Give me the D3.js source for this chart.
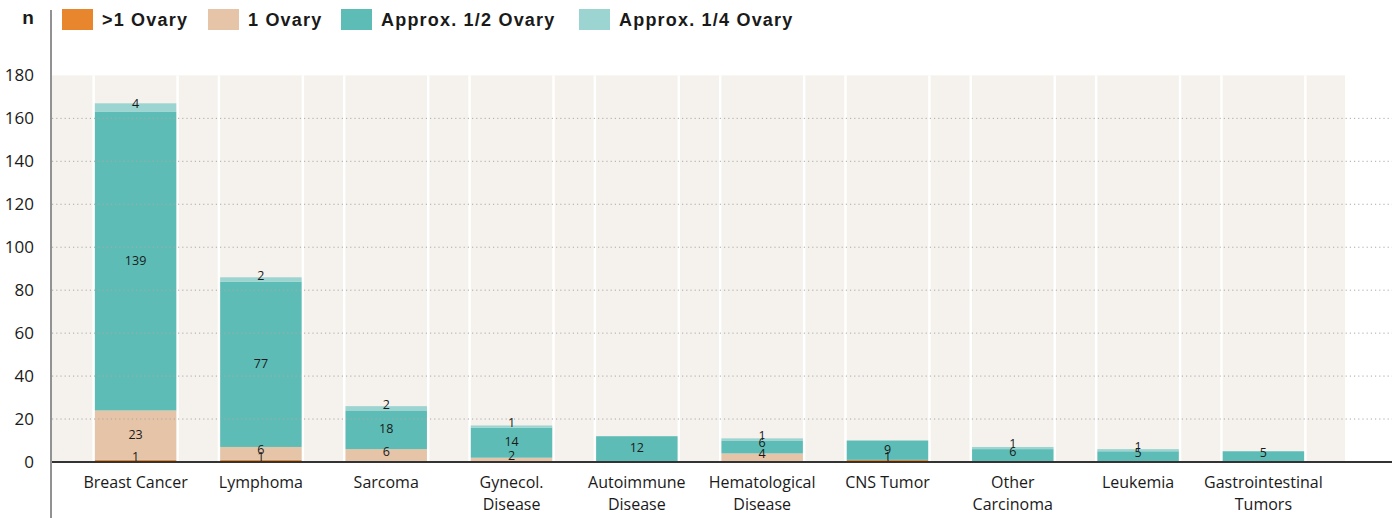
<!DOCTYPE html>
<html lang="en">
<head>
<meta charset="utf-8">
<title>Ovarian tissue by diagnosis</title>
<script src="https://cdn.jsdelivr.net/npm/d3@7"></script>
<style>
  body { margin: 0; background: #fff; }
  text { font-family: "Open Sans", "Liberation Sans", sans-serif; fill: #1a1a1a; }
  .legend text { font-family: "Liberation Sans", sans-serif; font-weight: bold; font-size: 18px; }
</style>
</head>
<body>
<svg width="1396" height="518"></svg>
<script>

var categories = [
  ["Breast Cancer"], ["Lymphoma"], ["Sarcoma"], ["Gynecol.", "Disease"],
  ["Autoimmune", "Disease"], ["Hematological", "Disease"], ["CNS Tumor"],
  ["Other", "Carcinoma"], ["Leukemia"], ["Gastrointestinal", "Tumors"]
];
var seriesNames = [">1 Ovary", "1 Ovary", "Approx. 1/2 Ovary", "Approx. 1/4 Ovary"];
var moreThanOne = [1, 1, 0, 0, 0, 0, 1, 0, 0, 0];
var oneOvary    = [23, 6, 6, 2, 0, 4, 0, 0, 0, 0];
var halfOvary   = [139, 77, 18, 14, 12, 6, 9, 6, 5, 5];
var quarterOvary = [4, 2, 2, 1, 0, 1, 0, 1, 1, 0];
var yTicks = [0, 20, 40, 60, 80, 100, 120, 140, 160, 180];
var colors = ["#e8862e", "#e6c4a8", "#5dbdb6", "#9bd4d1"];

var svg = d3.select("svg");
var keys = categories.map(function(c) { return c.join(" "); });

var rows = keys.map(function(k, i) {
  return { cat: k, s0: moreThanOne[i], s1: oneOvary[i], s2: halfOvary[i], s3: quarterOvary[i] };
});
var stack = d3.stack().keys(["s0", "s1", "s2", "s3"])(rows);

var x = d3.scaleBand().domain(keys).range([51, 1348]).paddingInner(0.35).paddingOuter(0.35);
var y = d3.scaleLinear().domain([0, 180]).range([462, 75.4]);

// background panel
svg.append("rect")
  .attr("x", 52).attr("y", y(180))
  .attr("width", 1293).attr("height", y(0) - y(180))
  .attr("fill", "#f5f2ed");

// white separators at bar edges
keys.forEach(function(k) {
  [x(k) - 2.5, x(k) + x.bandwidth()].forEach(function(px) {
    svg.append("rect")
      .attr("x", px).attr("y", y(180))
      .attr("width", 2.5).attr("height", y(0) - y(180))
      .attr("fill", "#fff");
  });
});

// bars
svg.append("g").selectAll("g")
  .data(stack)
  .enter().append("g")
    .attr("fill", function(d, i) { return colors[i]; })
  .selectAll("rect")
  .data(function(d) { return d; })
  .enter().append("rect")
    .attr("x", function(d) { return x(d.data.cat); })
    .attr("y", function(d) { return y(d[1]); })
    .attr("width", x.bandwidth())
    .attr("height", function(d) { return y(d[0]) - y(d[1]); });

// gridlines (dotted, over bars)
svg.append("g").selectAll("line")
  .data(yTicks.filter(function(t) { return t > 0 && t < 180; }))
  .enter().append("line")
    .attr("x1", 52).attr("x2", 1392)
    .attr("y1", function(d) { return y(d); })
    .attr("y2", function(d) { return y(d); })
    .attr("stroke", "#a8a8a8")
    .attr("stroke-width", 1)
    .attr("stroke-dasharray", "1.2,3");

// value labels
stack.forEach(function(layer) {
  layer.forEach(function(d) {
    var v = d[1] - d[0];
    if (v <= 0) return;
    var h = y(d[0]) - y(d[1]);
    var off = h < 16 ? -4 : -1;
    svg.append("text")
      .attr("x", x(d.data.cat) + x.bandwidth() / 2)
      .attr("y", (y(d[0]) + y(d[1])) / 2 + off)
      .attr("dy", "0.35em")
      .attr("text-anchor", "middle")
      .style("font-size", "12.5px")
      .text(v);
  });
});

// baseline
svg.append("line")
  .attr("x1", 52).attr("x2", 1392)
  .attr("y1", y(0)).attr("y2", y(0))
  .attr("stroke", "#333").attr("stroke-width", 2);

// y axis
var yAxis = svg.append("g")
  .attr("transform", "translate(51,0)")
  .call(d3.axisLeft(y).tickValues(yTicks).tickSize(0).tickPadding(17));
yAxis.select(".domain").remove();
yAxis.selectAll("text").style("font-size", "17px").attr("fill", "#1a1a1a");

svg.append("line")
  .attr("x1", 51).attr("x2", 51)
  .attr("y1", 10).attr("y2", 518)
  .attr("stroke", "#6e6e72").attr("stroke-width", 1.5);

// x labels
var xl = svg.append("g").selectAll("text")
  .data(categories)
  .enter().append("text")
    .attr("x", function(d) { return x(d.join(" ")) + x.bandwidth() / 2; })
    .attr("y", 488)
    .attr("text-anchor", "middle")
    .style("font-size", "16px");
xl.selectAll("tspan")
  .data(function(d) { return d; })
  .enter().append("tspan")
    .attr("x", function() { return d3.select(this.parentNode).attr("x"); })
    .attr("dy", function(d, i) { return i ? 22 : 0; })
    .text(function(d) { return d; });

// "n" label
svg.append("text")
  .attr("x", 28).attr("y", 24)
  .attr("text-anchor", "middle")
  .style("font-size", "19px").style("font-weight", "bold")
  .style("font-family", "Liberation Sans, sans-serif")
  .text("n");

// legend
var legendX = [62, 208, 341, 579];
var lg = svg.append("g").attr("class", "legend");
seriesNames.forEach(function(name, i) {
  lg.append("rect")
    .attr("x", legendX[i]).attr("y", 9)
    .attr("width", 31).attr("height", 21)
    .attr("fill", colors[i]);
  lg.append("text")
    .attr("x", legendX[i] + 40).attr("y", 25.5)
    .style("letter-spacing", "1.2px")
    .text(name);
});

</script>
</body>
</html>
